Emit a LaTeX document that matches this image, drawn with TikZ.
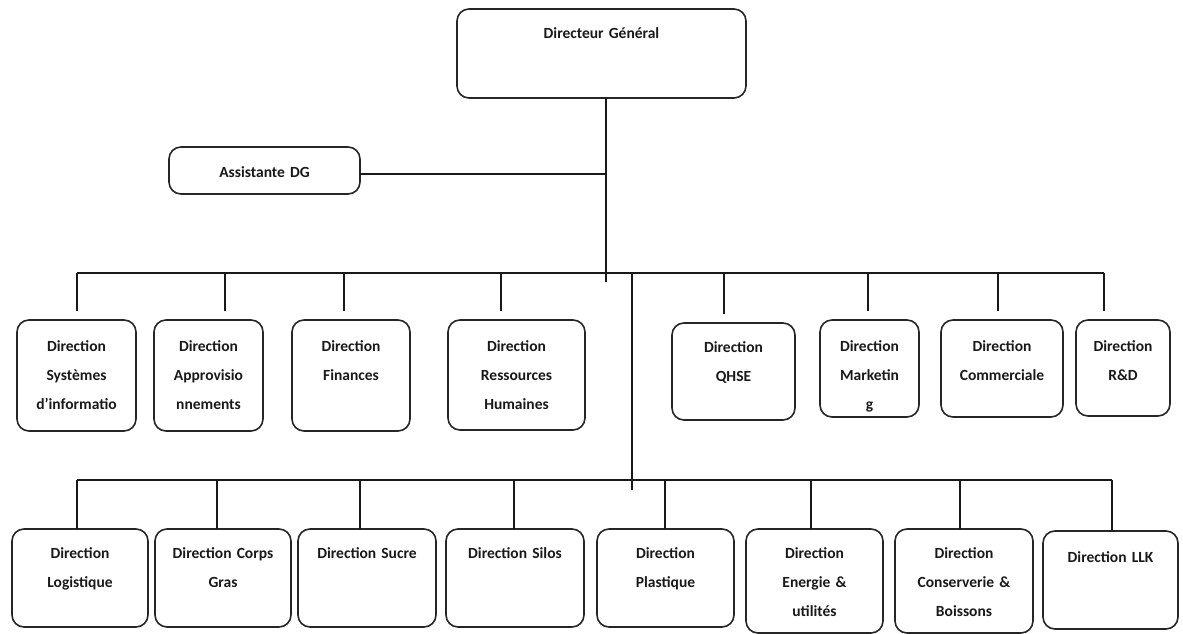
\documentclass[tikz,border=0pt]{standalone}
\usepackage{fontspec}
\setmainfont{Carlito}
\begin{document}
\begin{tikzpicture}[x=1pt,y=-1pt,
  box/.style={draw=black!85, line width=1.6pt, rounded corners=12pt, inner sep=0pt,
    outer sep=0pt, align=center, anchor=north west,
    font=\fontsize{15.5pt}{29pt}\selectfont\bfseries, text=black!90},
  link/.style={draw=black!90, line width=1.3pt},
  drop/.style={link, shorten >=9pt}]
\useasboundingbox (0,0) rectangle (1183,634);
% top
\node[box, text width=289pt, text height=30pt, text depth=59pt] (DG) at (457,9) {Directeur Général};
\node[box, text width=191pt, text height=30pt, text depth=17pt] (AS) at (169,147) {Assistante DG};
% row 1
\node[box, text width=119pt, text height=31pt, text depth=80pt] (A1) at (17,320) {Direction\\Systèmes\\d’informatio};
\node[box, text width=109pt, text height=31pt, text depth=80pt] (A2) at (154,320) {Direction\\Approvisio\\nnements};
\node[box, text width=118pt, text height=31pt, text depth=80pt] (A3) at (292,320) {Direction\\Finances};
\node[box, text width=137pt, text height=31pt, text depth=79pt] (A4) at (448,320) {Direction\\Ressources\\Humaines};
\node[box, text width=123pt, text height=29pt, text depth=68pt] (A5) at (672,323) {Direction\\QHSE};
\node[box, text width=99pt, text height=31pt, text depth=66pt] (A6) at (820,320) {Direction\\Marketin\\g};
\node[box, text width=122pt, text height=31pt, text depth=66pt] (A7) at (941,320) {Direction\\Commerciale};
\node[box, text width=94pt, text height=31pt, text depth=65pt] (A8) at (1076,320) {Direction\\R\&D};
% row 2
\node[box, text width=136pt, text height=29pt, text depth=69pt] (B1) at (12,529) {Direction\\Logistique};
\node[box, text width=136pt, text height=29pt, text depth=69pt] (B2) at (155,529) {Direction Corps\\Gras};
\node[box, text width=138pt, text height=29pt, text depth=69pt] (B3) at (298,529) {Direction Sucre};
\node[box, text width=138pt, text height=29pt, text depth=69pt] (B4) at (446,529) {Direction Silos};
\node[box, text width=137pt, text height=29pt, text depth=69pt] (B5) at (597,529) {Direction\\Plastique};
\node[box, text width=137pt, text height=29pt, text depth=75pt] (B6) at (746,529) {Direction\\Energie \&\\utilités};
\node[box, text width=138pt, text height=29pt, text depth=75pt] (B7) at (895,529) {Direction\\Conserverie \&\\Boissons};
\node[box, text width=135pt, text height=31pt, text depth=67pt] (B8) at (1043,531) {Direction LLK};
% trunk and buses
\coordinate (T1) at (606,273);
\coordinate (T1e) at (606,282);
\coordinate (T2) at (632,273);
\coordinate (T2e) at (632,490);
\draw[link] (DG.south -| T1) -- (T1e);
\draw[link] ([yshift=-3.5pt]AS.east) -- ([yshift=-3.5pt]AS.east -| T1);
\draw[link] (T2) -- (T2e);
\coordinate (a1) at (77,273);
\coordinate (a2) at (225,273);
\coordinate (a3) at (344,273);
\coordinate (a4) at (501,273);
\coordinate (a5) at (724,273);
\coordinate (a6) at (868,273);
\coordinate (a7) at (998,273);
\coordinate (a8) at (1104,273);
\draw[link] (a1) -- (a8);
\foreach \i in {1,...,8} {\draw[drop] (a\i) -- (a\i |- A\i.north);}
\coordinate (b1) at (77,480);
\coordinate (b2) at (217,480);
\coordinate (b3) at (360,480);
\coordinate (b4) at (514,480);
\coordinate (b5) at (665,480);
\coordinate (b6) at (811,480);
\coordinate (b7) at (960,480);
\coordinate (b8) at (1112,480);
\draw[link] (b1) -- (b8);
\foreach \i in {1,...,8} {\draw[link] (b\i) -- (b\i |- B\i.north);}
\end{tikzpicture}
\end{document}
